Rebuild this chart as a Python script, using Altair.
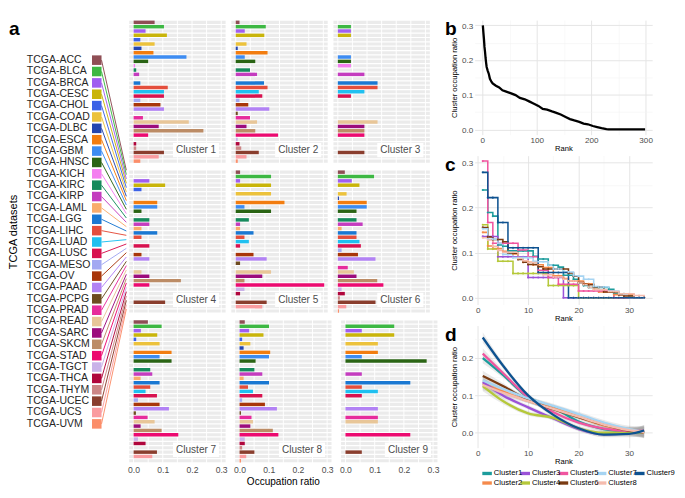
import altair as alt
import pandas as pd

FONT = "Liberation Sans"

# ---------------- data ----------------
DATASETS = ["TCGA-ACC", "TCGA-BLCA", "TCGA-BRCA", "TCGA-CESC", "TCGA-CHOL", "TCGA-COAD",
            "TCGA-DLBC", "TCGA-ESCA", "TCGA-GBM", "TCGA-HNSC", "TCGA-KICH", "TCGA-KIRC",
            "TCGA-KIRP", "TCGA-LAML", "TCGA-LGG", "TCGA-LIHC", "TCGA-LUAD", "TCGA-LUSC",
            "TCGA-MESO", "TCGA-OV", "TCGA-PAAD", "TCGA-PCPG", "TCGA-PRAD", "TCGA-READ",
            "TCGA-SARC", "TCGA-SKCM", "TCGA-STAD", "TCGA-TGCT", "TCGA-THCA", "TCGA-THYM",
            "TCGA-UCEC", "TCGA-UCS", "TCGA-UVM"]
DS_COLORS = ["#8f4e55", "#3db843", "#a05ef0", "#c9b50a", "#3c62e6", "#ecc23c", "#2446b0",
             "#f27d10", "#3d8cf2", "#2a6414", "#f47ef0", "#168a5c", "#c43cbf", "#f9ac6c",
             "#1a78d2", "#e44e3c", "#20c0f0", "#d8124f", "#a2a8f2", "#a8360a", "#b282f4",
             "#6d4b20", "#e62c9c", "#e8c698", "#9c0c7c", "#bc8c66", "#ec0a70", "#c9b2e8",
             "#b0063c", "#cc8686", "#8a3e2e", "#fa9ca0", "#fb8e6a"]

CLUSTERS = ["Cluster 1", "Cluster 2", "Cluster 3", "Cluster 4", "Cluster 5",
            "Cluster 6", "Cluster 7", "Cluster 8", "Cluster 9"]
C1 = [0.072, 0.104, 0.041, 0.114, 0.023, 0.072, 0.027, 0.068, 0.181, 0.050, 0.005, 0.009, 0.019,
      0, 0.023, 0.117, 0.104, 0.104, 0.023, 0.092, 0.104, 0, 0.032, 0.189, 0.086, 0.239, 0.050,
      0, 0.009, 0.009, 0.104, 0.086, 0.023]
C2 = [0.013, 0.103, 0.031, 0.098, 0, 0.037, 0.007, 0.109, 0.031, 0.067, 0, 0.049, 0.073,
      0, 0.097, 0.109, 0.079, 0.091, 0.013, 0.043, 0.115, 0.007, 0.049, 0.073, 0.037, 0.067, 0.145,
      0.007, 0.013, 0.019, 0.079, 0.037, 0.007]
C3 = [0, 0.045, 0.045, 0.045, 0, 0, 0, 0, 0.045, 0.045, 0.045, 0, 0.091,
      0, 0.136, 0.136, 0.091, 0.045, 0, 0, 0, 0, 0, 0.136, 0.091, 0.091, 0.091,
      0, 0, 0, 0.091, 0, 0]
C4 = [0, 0, 0.054, 0.108, 0.027, 0, 0, 0.081, 0.081, 0.027, 0, 0.054, 0.054,
      0.027, 0.081, 0.027, 0, 0.054, 0, 0.027, 0.054, 0, 0, 0.027, 0.054, 0.162, 0.054,
      0, 0, 0, 0.108, 0, 0]
C5 = [0.015, 0.121, 0.015, 0.121, 0, 0.121, 0, 0.167, 0.030, 0.121, 0, 0.045, 0.015,
      0.015, 0.061, 0.030, 0.045, 0.015, 0, 0.061, 0.106, 0.015, 0, 0.121, 0.091, 0.030, 0.303,
      0.030, 0.015, 0, 0.106, 0.091, 0]
C6 = [0.024, 0.124, 0.048, 0.074, 0, 0.030, 0.004, 0.099, 0.099, 0.064, 0, 0.064, 0.085,
      0.013, 0.064, 0.064, 0.074, 0.079, 0.013, 0.069, 0.129, 0, 0.034, 0.055, 0.064, 0.135, 0.156,
      0.013, 0.024, 0.007, 0.129, 0.029, 0.004]
C7 = [0.049, 0.096, 0.025, 0.081, 0.009, 0.089, 0, 0.130, 0.089, 0.130, 0, 0.057, 0.064,
      0.024, 0.089, 0.057, 0.041, 0.080, 0.015, 0.089, 0.121, 0.008, 0.048, 0.072, 0.024, 0.096, 0.153,
      0.015, 0.041, 0, 0.080, 0.064, 0]
C8 = [0.018, 0.101, 0.033, 0.082, 0.009, 0.037, 0.014, 0.105, 0.101, 0.055, 0, 0.051, 0.078,
      0.014, 0.101, 0.029, 0.046, 0.078, 0.009, 0.087, 0.128, 0.005, 0.041, 0.046, 0.037, 0.114, 0.133,
      0.018, 0.018, 0.009, 0.051, 0.023, 0.005]
C9 = [0, 0.167, 0.056, 0.167, 0, 0.111, 0, 0.111, 0.056, 0.278, 0, 0, 0.056,
      0, 0.222, 0.056, 0.111, 0.056, 0, 0, 0.111, 0, 0.111, 0.111, 0, 0, 0.222,
      0, 0, 0, 0.056, 0, 0]
CLUSTER_VALUES = [C1, C2, C3, C4, C5, C6, C7, C8, C9]

# panel b: overall cluster occupation ratio by rank
B_RANK = [1, 2, 3, 4, 5, 6, 7, 8, 10, 12, 14, 17, 19, 25, 31, 37, 44, 53, 61, 69, 78, 86, 94,
          103, 111, 119, 128, 136, 144, 153, 161, 169, 178, 186, 194, 203, 211, 219, 228, 232, 299]
B_RATIO = [0.300, 0.279, 0.261, 0.238, 0.224, 0.206, 0.192, 0.180, 0.169, 0.160, 0.146, 0.137,
           0.133, 0.126, 0.121, 0.113, 0.109, 0.104, 0.099, 0.091, 0.087, 0.081, 0.075, 0.068,
           0.059, 0.057, 0.052, 0.048, 0.043, 0.036, 0.030, 0.026, 0.022, 0.017, 0.015, 0.010,
           0.007, 0.004, 0.001, 0.000, 0.000]

# panels c/d
CL_NAMES = ["Cluster1", "Cluster2", "Cluster3", "Cluster4", "Cluster5",
            "Cluster6", "Cluster7", "Cluster8", "Cluster9"]
CL_COLORS = ["#1c9c9c", "#f58a4b", "#9b52d8", "#b5c83a", "#f0559f",
             "#7a3b12", "#a6d4f2", "#f5bcae", "#0e5290"]
LEGEND_ORDER = ["Cluster1", "Cluster3", "Cluster5", "Cluster7", "Cluster9",
                "Cluster2", "Cluster4", "Cluster6", "Cluster8"]

D_RANKS = [1, 5, 10, 15, 20, 25, 30, 33]
D_FIT = {
    "Cluster1": [0.200, 0.155, 0.095, 0.068, 0.030, 0.010, 0.002, 0.000],
    "Cluster2": [0.132, 0.110, 0.085, 0.066, 0.042, 0.020, 0.005, 0.000],
    "Cluster3": [0.136, 0.100, 0.068, 0.038, 0.010, -0.004, 0.000, 0.005],
    "Cluster4": [0.125, 0.085, 0.052, 0.040, 0.012, 0.000, 0.000, 0.003],
    "Cluster5": [0.212, 0.160, 0.095, 0.055, 0.027, 0.011, 0.005, 0.005],
    "Cluster6": [0.152, 0.125, 0.088, 0.063, 0.042, 0.022, 0.006, 0.002],
    "Cluster7": [0.140, 0.118, 0.092, 0.072, 0.050, 0.027, 0.010, 0.002],
    "Cluster8": [0.128, 0.107, 0.085, 0.064, 0.043, 0.022, 0.007, 0.002],
    "Cluster9": [0.255, 0.180, 0.100, 0.048, 0.012, -0.005, -0.003, 0.006],
}
D_CI = [0.014, 0.008, 0.006, 0.006, 0.006, 0.007, 0.009, 0.015]

# ---------------- layout constants ----------------
PANEL_W, PANEL_H = 101, 150
COL_SP, ROW_SP = 6, 5
GRID_H = 3 * PANEL_H + 2 * ROW_SP
LEFT_W = 123
GRID_TOP = 18.8          # y of the grid top in the drawing
LBL_Y0, LBL_DY = 60.7, 11.91
XD = [-0.015, 0.315]
GRID_X = [0, 0.05, 0.1, 0.15, 0.2, 0.25, 0.3]
RW = 186                 # right panels width
LEG_W, LEG_COLS, LEG_COLW, LEG_X0 = 212, 5, 40, 8
LETTER_X = -31


def letter_mark(t):
    return alt.Chart(pd.DataFrame({"t": [t]})).mark_text(
        fontSize=20, fontWeight="bold", font=FONT, color="black", align="left", baseline="top"
    ).encode(x=alt.value(LETTER_X), y=alt.value(0), text="t:N")


# ---------------- panel a: left labels ----------------
n = len(DATASETS)
left_df = pd.DataFrame({"name": DATASETS, "hex": DS_COLORS, "idx": list(range(n))})
left_df["sq1"] = left_df["idx"] - 0.42
left_df["sq2"] = left_df["idx"] + 0.42
tgt_px = GRID_TOP + PANEL_H + ROW_SP + (left_df["idx"] + 0.5) * PANEL_H / n
left_df["tgt"] = (tgt_px - LBL_Y0) / LBL_DY
dmin = (GRID_TOP - LBL_Y0) / LBL_DY
dmax = dmin + GRID_H / LBL_DY
yl = alt.Scale(domain=[dmin, dmax], reverse=True, nice=False, zero=False)

lbase = alt.Chart(left_df)
links = lbase.mark_rule(strokeWidth=1).encode(
    x=alt.value(97), x2=alt.value(LEFT_W),
    y=alt.Y("idx:Q", scale=yl, axis=None), y2="tgt:Q",
    color=alt.Color("hex:N", scale=None))
squares = lbase.mark_rect().encode(
    x=alt.value(87), x2=alt.value(97),
    y=alt.Y("sq1:Q", scale=yl, axis=None), y2="sq2:Q",
    color=alt.Color("hex:N", scale=None))
texts = lbase.mark_text(align="left", baseline="middle", fontSize=11, font=FONT,
                        color="#262626").encode(
    x=alt.value(18.7), y=alt.Y("idx:Q", scale=yl, axis=None), text="name:N")
ytitle = alt.Chart(pd.DataFrame({"t": ["TCGA datasets"]})).mark_text(
    angle=270, fontSize=11.5, font=FONT, color="black", align="center", baseline="middle"
).encode(x=alt.value(5.5), y=alt.value(222), text="t:N")
a_letter = alt.Chart(pd.DataFrame({"t": ["a"]})).mark_text(
    fontSize=20, fontWeight="bold", font=FONT, color="black", align="left", baseline="top"
).encode(x=alt.value(0), y=alt.value(0), text="t:N")
left = alt.layer(links, squares, texts, ytitle, a_letter).properties(width=LEFT_W, height=GRID_H)

# ---------------- panel a: 3x3 grid of bar panels ----------------
rows = []
for cname, vals in zip(CLUSTERS, CLUSTER_VALUES):
    for i, (hx, v) in enumerate(zip(DS_COLORS, vals)):
        rows.append(dict(kind="bar", cluster=cname, idx=i, v=v, hex=hx,
                         b1=i - 0.4, b2=i + 0.4, s1=i - 0.36, s2=i + 0.36))
    for g in GRID_X:
        rows.append(dict(kind="vline", cluster=cname, gx=g, idx=-1))
grid_df = pd.DataFrame(rows)

gx = alt.Scale(domain=XD, nice=False, zero=False)
gy = alt.Scale(domain=[-0.5, n - 0.5], reverse=True, nice=False, zero=False)
xax = alt.Axis(values=[0, 0.1, 0.2, 0.3], format=".1f", title=None, ticks=False, domain=False,
               grid=False, labelFontSize=9, labelColor="#4d4d4d", labelPadding=3,
               labelFlush=False, labelFont=FONT)


def panel(cname, show_axis):
    axx = xax if show_axis else None
    one = "datum.kind == 'bar' && datum.idx == 0"
    stripes = alt.Chart().transform_filter("datum.kind == 'bar'").mark_rect(
        color="#ebebeb").encode(
        x=alt.XDatum(XD[0], scale=gx, axis=axx), x2=alt.datum(XD[1]),
        y=alt.Y("s1:Q", scale=gy, axis=None), y2="s2:Q")
    vlines = alt.Chart().transform_filter("datum.kind == 'vline'").mark_rule(
        color="white", strokeWidth=1).encode(x=alt.X("gx:Q", scale=gx, axis=axx))
    bars = alt.Chart().transform_filter("datum.kind == 'bar' && datum.v > 0").mark_rect().encode(
        x=alt.X("v:Q", scale=gx, axis=axx), x2=alt.datum(0),
        y=alt.Y("b1:Q", scale=gy, axis=None), y2="b2:Q",
        color=alt.Color("hex:N", scale=None))
    box = alt.Chart().transform_filter(one).mark_rect(color="white").encode(
        x=alt.XDatum(0.135, scale=gx, axis=axx), x2=alt.datum(0.293),
        y=alt.YDatum(27.8, scale=gy, axis=None), y2=alt.datum(31.1))
    lab = alt.Chart().transform_filter(one).mark_text(
        fontSize=10.5, font=FONT, color="#4d4d4d").encode(
        x=alt.XDatum(0.214, scale=gx, axis=axx),
        y=alt.YDatum(29.45, scale=gy, axis=None), text="cluster:N")
    return alt.layer(stripes, vlines, bars, box, lab, data=grid_df).transform_filter(
        alt.datum.cluster == cname).properties(width=PANEL_W, height=PANEL_H)


grid_rows = []
for r in range(3):
    grid_rows.append(alt.hconcat(*[panel(CLUSTERS[r * 3 + k], r == 2) for k in range(3)],
                                 spacing=COL_SP))
grid = alt.vconcat(*grid_rows, spacing=ROW_SP).properties(
    title=alt.TitleParams("Occupation ratio", orient="bottom", anchor="middle",
                          fontSize=10.5, fontWeight="normal", font=FONT,
                          color="black", offset=3))

A = alt.hconcat(left, grid, spacing=0)


# ---------------- panels b, c, d ----------------
def ax(title, values, major, fmt=None, is_y=False):
    kw = dict(title=title, values=values,
              labelExpr="(" + major + ") ? datum.label : ''",
              grid=True,
              gridColor={"condition": {"test": "!(" + major + ")", "value": "#f3f3f3"},
                         "value": "#e4e4e4"},
              gridWidth={"condition": {"test": "!(" + major + ")", "value": 0.6}, "value": 1},
              ticks=False, domain=False, labelFontSize=8.5, labelColor="#4d4d4d",
              titleFontSize=8, titleFontWeight="normal", titleColor="black",
              labelFont=FONT, titleFont=FONT, labelOverlap=False, labelFlush=False,
              labelPadding=2 if is_y else 1, titlePadding=3 if is_y else 1)
    if fmt:
        kw["format"] = fmt
    return alt.Axis(**kw)


YMAJ = "round(datum.value*100) % 10 == 0"
YVALS = [0, 0.05, 0.1, 0.15, 0.2, 0.25, 0.3]
yax = ax("Cluster occupation ratio", YVALS, YMAJ, ".1f", True)
xax_b = ax("Rank", [0, 50, 100, 150, 200, 250, 300], "round(datum.value) % 100 == 0")
xax_cd = ax("Rank", [0, 5, 10, 15, 20, 25, 30], "round(datum.value) % 10 == 0")

b_line = alt.Chart(pd.DataFrame({"rank": B_RANK, "ratio": B_RATIO})).mark_line(
    color="black", strokeWidth=2.4).encode(
    x=alt.X("rank:Q", scale=alt.Scale(domain=[-14, 312], nice=False, zero=False), axis=xax_b),
    y=alt.Y("ratio:Q", scale=alt.Scale(domain=[-0.015, 0.315], nice=False, zero=False), axis=yax))
b = alt.layer(b_line, letter_mark("b")).properties(width=RW, height=120)

c_rows = []
for name, hx, vals in zip(CL_NAMES, CL_COLORS, CLUSTER_VALUES):
    for r, v in enumerate(sorted(vals, reverse=True), start=1):
        c_rows.append(dict(cluster=name, hex=hx, rank=r, ratio=v))
c_df = pd.DataFrame(c_rows)
cx = alt.X("rank:Q", scale=alt.Scale(domain=[-0.6, 34.6], nice=False, zero=False), axis=xax_cd)
cy = alt.Y("ratio:Q", scale=alt.Scale(domain=[-0.015, 0.315], nice=False, zero=False), axis=yax)
c_lines = alt.Chart(c_df).mark_line(interpolate="step-after", strokeWidth=1.6).encode(
    x=cx, y=cy, detail="cluster:N", color=alt.Color("hex:N", scale=None))
c_pts = alt.Chart(c_df).mark_circle(size=5, opacity=1).encode(
    x=cx, y=cy, color=alt.Color("hex:N", scale=None))
c = alt.layer(c_lines, c_pts, letter_mark("c")).properties(width=RW, height=156)

d_rows = []
for name in CL_NAMES:
    for rk, f, ci in zip(D_RANKS, D_FIT[name], D_CI):
        d_rows.append(dict(cluster=name, hex=CL_COLORS[CL_NAMES.index(name)], rank=rk,
                           fit=f, lo=f - ci, hi=f + ci))
d_df = pd.DataFrame(d_rows)
yax_d = ax("Cluster occupation ratio", [0, 0.05, 0.1, 0.15, 0.2, 0.25], YMAJ, ".1f", True)
dys = alt.Scale(domain=[-0.04, 0.287], nice=False, zero=False)
bands = alt.Chart(d_df).mark_area(color="#9e9e9e", opacity=0.22, interpolate="monotone").encode(
    x=cx, y=alt.Y("lo:Q", scale=dys, axis=yax_d), y2="hi:Q", detail="cluster:N")
d_lines = alt.Chart(d_df).mark_line(interpolate="monotone", strokeWidth=2.4).encode(
    x=cx, y=alt.Y("fit:Q", scale=dys, axis=yax_d), detail="cluster:N",
    color=alt.Color("hex:N", scale=None))
d = alt.layer(bands, d_lines, letter_mark("d")).properties(width=RW, height=128)

leg_df = pd.DataFrame({"name": LEGEND_ORDER,
                       "hex": [CL_COLORS[CL_NAMES.index(k)] for k in LEGEND_ORDER],
                       "slot": list(range(len(LEGEND_ORDER)))})
leg_df["col"] = leg_df["slot"] % LEG_COLS
leg_df["row"] = leg_df["slot"] // LEG_COLS
leg_df["sym1"] = LEG_X0 + leg_df["col"] * LEG_COLW
leg_df["sym2"] = leg_df["sym1"] + 10
leg_df["labx"] = leg_df["sym1"] + 12
lx = alt.Scale(domain=[0, LEG_W], nice=False, zero=False)
ly = alt.Scale(domain=[-0.5, 1.5], reverse=True, nice=False, zero=False)
leg_sym = alt.Chart(leg_df).mark_rule(strokeWidth=3.5).encode(
    x=alt.X("sym1:Q", scale=lx, axis=None), x2="sym2:Q",
    y=alt.Y("row:Q", scale=ly, axis=None), color=alt.Color("hex:N", scale=None))
leg_txt = alt.Chart(leg_df).mark_text(align="left", baseline="middle", fontSize=8,
                                      font=FONT, color="black").encode(
    x=alt.X("labx:Q", scale=lx, axis=None), y=alt.Y("row:Q", scale=ly, axis=None),
    text="name:N")
legend = alt.layer(leg_sym, leg_txt).properties(width=LEG_W, height=20)

R = alt.vconcat(b, c, d, legend, spacing=3)

chart = alt.hconcat(A, R, spacing=6).properties(
    padding=0, background="white"
).configure(font=FONT).configure_view(strokeWidth=0)

chart.save("out.html", embed_options={"renderer": "svg", "actions": False})
